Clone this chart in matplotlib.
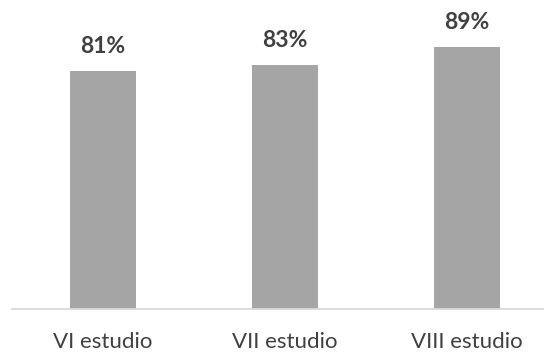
import matplotlib
matplotlib.use("Agg")
import matplotlib.pyplot as plt

categories = ["VI estudio", "VII estudio", "VIII estudio"]
values = [0.81, 0.83, 0.89]
value_labels = ["81%", "83%", "89%"]

BAR = "#A5A5A5"
TEXT = "#404040"
AXIS = "#D9D9D9"

plt.rcParams["font.family"] = ["Lato", "DejaVu Sans"]

fig = plt.figure(figsize=(5.44, 3.54), dpi=100)
# axis line runs off the right edge in the reference, so the axes does too
ax = fig.add_axes([12 / 544, 45 / 354, 546 / 544, 294 / 354])

x = range(len(categories))
bars = ax.bar(x, values, width=0.364, color=BAR)

for rect, lab in zip(bars, value_labels):
    ax.annotate(lab, (rect.get_x() + rect.get_width() / 2, rect.get_height()),
                xytext=(0, 13), textcoords="offset points",
                ha="center", va="baseline", fontsize=16.5, weight="bold", color=TEXT)

ax.set_xlim(-0.5, 2.5)
ax.set_ylim(0, 1.0)
ax.set_xticks(list(x))
ax.set_xticklabels(categories, fontsize=16, color=TEXT)
ax.tick_params(axis="x", length=0, pad=16.5)
ax.set_yticks([])
for side in ("top", "right", "left"):
    ax.spines[side].set_visible(False)
ax.spines["bottom"].set_color(AXIS)
ax.spines["bottom"].set_linewidth(1.3)

fig.savefig("out.png", dpi=100, facecolor="white")
